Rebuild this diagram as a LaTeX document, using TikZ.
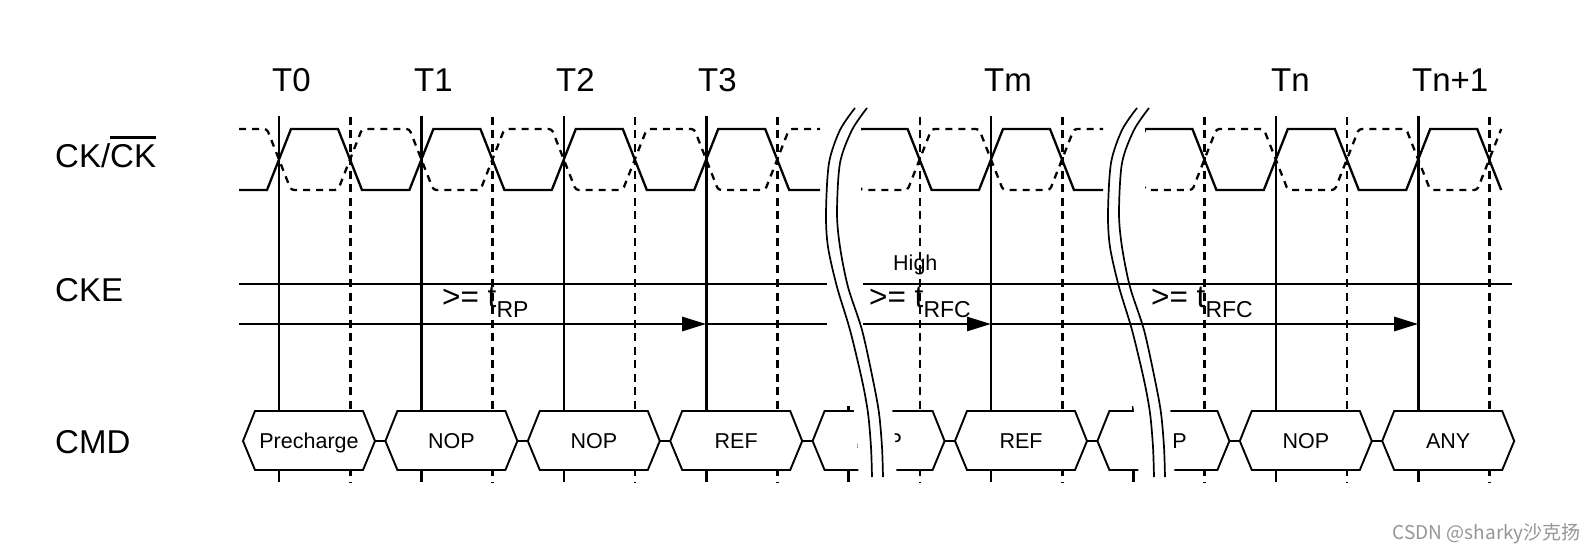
\documentclass[tikz,border=0pt]{standalone}
\usepackage{fontspec}
\setmainfont{Liberation Sans}
\newfontfamily\cjkwm{Noto Sans CJK SC}
\usetikzlibrary{arrows.meta}
\definecolor{wmgray}{RGB}{150,150,150}
\newcommand\ovlbar[1]{\leavevmode\vbox{\hrule height 2.6pt\kern 6pt\hbox{#1}}}
\newcommand\clockpaths{%
  \draw[sig] (239,190) \foreach \k in {0,...,8} {
    -- ({279+142.4*\k-12},190) -- ({279+142.4*\k+12},129)
    -- ({279+142.4*\k+59},129) -- ({279+142.4*\k+83},190) };
  \draw[cdash] (239,129) \foreach \k in {0,...,8} {
    -- ({279+142.4*\k-12},129) -- ({279+142.4*\k+12},190)
    -- ({279+142.4*\k+59},190) -- ({279+142.4*\k+83},129) };
}
\newcommand\brkmid{(861,104) (846,130) (834.5,163) (831.5,213) (834,247) (842.5,287) (856,330) (867.5,380) (873.5,413) (876.5,447) (877.5,477)}
\newcommand\brkone{(855,108) (840,130) (829,163) (826,213) (828,247) (837,287) (850,330) (862,380) (868,413) (871,447) (872,477)}
\newcommand\brktwo{(867,108) (852,130) (840,163) (837,213) (840,247) (848,287) (862,330) (873,380) (879,413) (882,447) (883,477)}
\begin{document}
\begin{tikzpicture}[x=1pt,y=-1pt,
  sig/.style={line width=2.3pt},
  cke/.style={line width=2.6pt},
  vsolid/.style={line width=2.6pt},
  vdash/.style={line width=2.6pt, dash pattern=on 8pt off 5.5pt},
  cdash/.style={line width=2.3pt, dash pattern=on 7pt off 6pt, rounded corners=3pt},
  hexbox/.style={line width=1.9pt, fill=white, line join=miter},
  wave/.style={line width=1.7pt},
  band/.style={white, line width=38pt},
  rowlbl/.style={font=\fontsize{33}{33}\selectfont, anchor=base west, inner sep=0pt},
  tlbl/.style={font=\fontsize{33}{33}\selectfont, anchor=base west, inner sep=0pt},
  cmdtxt/.style={font=\fontsize{21.5}{21.5}\selectfont, anchor=base, inner sep=0pt},
  tmlbl/.style={font=\fontsize{31.5}{31.5}\selectfont, anchor=base west, inner sep=0pt},
  tip/.style={-{Triangle[length=24pt,width=14pt]}}
]
\fill[white] (0,0) rectangle (1596,556);
\useasboundingbox (0,0) rectangle (1596,556);

% clock edge coordinates
\foreach \k in {0,...,8} {
  \coordinate (T\k) at ({279+142.4*\k},116);
  \coordinate (H\k) at ({279+142.4*\k+71.2},117);
}

% vertical lines
\foreach \k in {0,1,2,3,5,7,8}
  \draw[vsolid] (T\k) -- ++(0,366);
\foreach \k in {0,...,8}
  \draw[vdash] (H\k) -- ++(0,365);
\foreach \k in {4,6} {
  \draw[vsolid] ([yshift=-290pt]T\k) -- ++(0,5);
  \draw[vsolid] ([yshift=-354pt]T\k) -- ++(0,12);
}

% CMD boxes
\foreach \k/\t in {0/Precharge,1/NOP,2/NOP,3/REF,4/NOP,5/REF,6/NOP,7/NOP,8/ANY} {
  \pgfmathsetmacro\L{279+142.4*\k-36}
  \pgfmathsetmacro\R{279+142.4*\k+96}
  \draw[hexbox] (\L,441) -- ({\L+12},411) -- ({\R-12},411) -- (\R,441)
    -- ({\R-12},470) -- ({\L+12},470) -- cycle;
  \node[cmdtxt] (c\k) at ({279+142.4*\k+30},448) {\t};
}
\foreach \k in {0,...,7}
  \draw[line width=1.9pt] ({279+142.4*\k+96},441) -- ({279+142.4*\k+106.4},441);

% break bands
\draw[band] plot[smooth] coordinates {\brkmid};
\begin{scope}[xshift=279pt]
  \draw[band, line width=36pt] plot[smooth] coordinates {\brkmid};
\end{scope}

% CKE and timing arrows
\coordinate (ckeA) at (239,284);
\coordinate (ckeB) at (827,284);
\coordinate (ckeC) at (863,284);
\coordinate (ckeD) at (1512,284);
\draw[cke] (ckeA) -- (ckeB);
\draw[cke] (ckeC) -- (ckeD);
\coordinate (arA) at (239,324);
\coordinate (arT3) at (706.2,324);
\coordinate (arB) at (827,324);
\coordinate (arC) at (863,324);
\coordinate (arTm) at (991,324);
\coordinate (arTn1) at (1418.2,324);
\draw[cke,tip] (arA) -- (arT3);
\draw[cke] (arT3) -- (arB);
\draw[cke,tip] (arC) -- (arTm);
\draw[cke,tip] (arTm) -- (arTn1);

% break wavy lines
\draw[wave] plot[smooth] coordinates {\brkone};
\draw[wave] plot[smooth] coordinates {\brktwo};
\begin{scope}[xshift=282pt]
  \draw[wave] plot[smooth] coordinates {\brkone};
  \draw[wave] plot[smooth] coordinates {\brktwo};
\end{scope}

% clock, in three pieces
\begin{scope}
  \clip (230,100) rectangle (820,200);
  \clockpaths
\end{scope}
\begin{scope}
  \clip (861,100) rectangle (1103,200);
  \clockpaths
\end{scope}
\begin{scope}
  \clip (1145,100) rectangle (1530,200);
  \clockpaths
\end{scope}

% row labels
\node[rowlbl] (lck) at (55,168) {CK/\ovlbar{CK}};
\node[rowlbl] (lcke) at (55,301) {CKE};
\node[rowlbl] (lcmd) at (55,453) {CMD};

% T labels
\node[tlbl] (t0) at (272,92) {T0};
\node[tlbl] (t1) at (414,92) {T1};
\node[tlbl] (t2) at (556,92) {T2};
\node[tlbl] (t3) at (698,92) {T3};
\node[tlbl] (tm) at (984,92) {Tm};
\node[tlbl] (tn) at (1271,92) {Tn};
\node[tlbl] (tn1) at (1412,92) {Tn+1};

% timing labels
\node[font=\fontsize{21.5}{21.5}\selectfont, anchor=base west, inner sep=0pt] (high) at (893,270) {High};
\node[tmlbl] (trp) at (442,307) {>= t\raisebox{-10pt}{\fontsize{23}{23}\selectfont RP}};
\node[tmlbl] (trfc1) at (869,307) {>= t\raisebox{-10pt}{\fontsize{23}{23}\selectfont RFC}};
\node[tmlbl] (trfc2) at (1151,307) {>= t\raisebox{-10pt}{\fontsize{23}{23}\selectfont RFC}};

% watermark
\node[font=\cjkwm\fontsize{19}{19}\selectfont, text=wmgray, anchor=base east, inner sep=0pt] (wm) at (1581,539) {CSDN @sharky沙克扬};
\end{tikzpicture}
\end{document}
